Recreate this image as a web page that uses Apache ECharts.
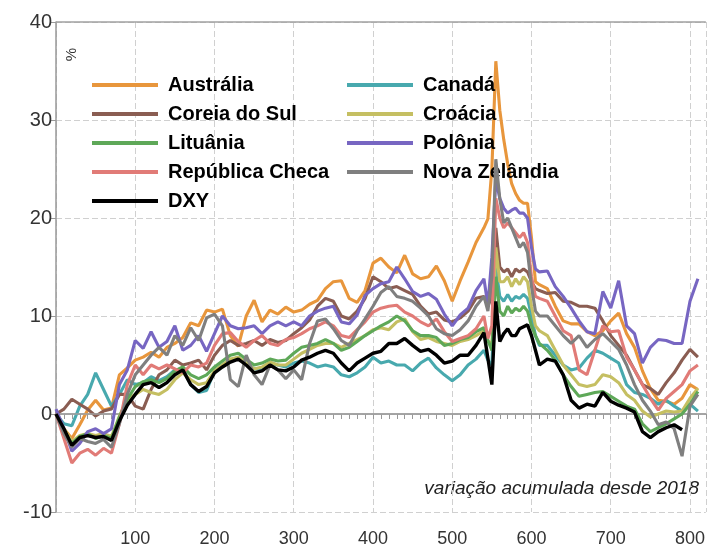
<!DOCTYPE html>
<html>
<head>
<meta charset="utf-8">
<script src="https://cdn.jsdelivr.net/npm/echarts@6/dist/echarts.min.js"></script>
<style>html,body{margin:0;padding:0;background:#fff;}#c{width:708px;height:548px;}</style>
</head>
<body>
<div id="c"></div>
<script>
// x positions (observations since 2018)
const xs = [0,10,20,30,40,50,60,70,80,90,100,110,120,130,140,150,160,170,180,190,200,210,220,230,240,250,260,270,280,290,300,310,320,330,340,350,360,370,380,390,400,410,420,430,440,450,460,470,480,490,500,510,520,530,
540,545,550,555,560,565,570,575,580,585,590,595,600,605,610,
620,630,640,650,660,670,680,690,700,710,720,730,740,750,760,770,780,790,800,810];

const australia = [0,-1.5,-2.5,-1.1,0.4,1.4,0.4,0.6,4.0,4.7, 5.5,5.8,6.3,5.8,6.8,7.2,7.8,9.3,9.0,10.6, 10.4,10.7,8.0,6.9,10.0,11.6,9.4,10.6,10.2,10.9, 10.4,10.6,11.2,11.6,12.8,13.5,13.6,11.8,11.4,12.6, 15.4,15.9,15.0,14.4,16.2,14.3,13.8,14.0,15.1,13.6, 11.5,13.6,15.5,17.5,
19.0,19.9,25.0,36.0,31.0,28.0,25.5,23.5,22.5,21.8,21.5,21.5,18.0,13.5,13.2,
12.8,11.0,9.5,9.2,9.2,8.4,8.0,8.5,9.5,10.3,8.2,6.8,4.4,2.6,1.4,1.3,1.0,1.6,3.0,2.5];
const canada = [0,-1.0,-1.2,0.8,2.0,4.2,2.5,0.8,2.0,3.5, 3.0,3.2,3.8,3.4,3.8,4.5,4.6,3.0,2.2,2.4, 4.4,5.0,5.5,5.8,5.2,4.6,4.6,5.2,5.0,4.8, 5.2,5.4,5.2,4.8,5.0,4.8,4.0,3.8,4.2,4.8, 5.8,5.2,5.4,5.0,5.0,4.4,5.2,5.7,4.7,4.0, 3.4,4.0,5.0,5.6,
6.5,5.5,5.0,15.0,12.0,11.5,12.2,11.5,12.0,11.8,12.2,11.8,10.0,8.0,7.0,
7.0,6.0,5.0,4.5,4.7,5.7,6.5,6.2,5.7,5.2,3.0,2.2,2.0,1.6,1.0,1.4,0.8,0.3,1.0,0.3];
const coreia = [0,0.5,1.5,1.0,0.5,-0.2,0.3,0.5,2.0,2.0, 0.8,0.5,2.5,4.0,4.5,5.5,5.0,5.2,5.5,4.5, 6.0,7.0,7.5,7.0,7.2,7.5,7.0,7.6,7.3,7.5, 8.2,8.8,9.6,11.0,11.8,11.5,10.0,9.7,10.5,11.8, 14.0,13.5,12.8,13.0,12.6,12.2,11.0,10.2,10.4,9.6, 9.4,9.8,10.5,11.8,
12.0,11.0,12.0,19.0,15.0,14.5,14.8,14.0,14.8,14.5,14.8,14.5,13.5,12.8,12.6,
12.3,12.4,11.5,11.4,11.0,11.0,10.8,9.5,8.0,7.0,6.0,4.5,3.0,2.6,2.0,3.2,4.2,5.5,6.6,5.8];
const croacia = [0,-1.5,-2.8,-2.2,-2.0,-2.2,-2.0,-2.3,-0.2,1.5, 2.0,2.5,2.2,2.0,2.5,3.5,4.2,3.5,3.0,3.2, 4.4,5.0,5.6,5.8,5.2,4.6,4.8,5.3,5.0,5.0, 5.6,6.2,6.6,7.0,7.2,7.2,6.8,7.2,7.6,8.0, 8.6,8.8,8.6,9.4,9.7,8.4,7.6,7.8,7.4,7.2, 7.0,7.4,7.6,8.0,
8.5,7.5,7.0,17.0,13.5,13.5,14.0,13.0,13.8,13.2,14.0,13.5,11.0,9.0,8.5,
8.0,6.5,5.0,4.0,3.0,2.8,3.0,4.0,3.8,3.2,2.0,1.4,0.3,-0.3,0.0,0.3,0.2,0.3,1.6,2.6];
const lituania = [0,-1.8,-3.0,-2.3,-2.0,-2.5,-2.2,-2.5,-0.3,1.5, 2.8,3.3,3.5,3.2,3.6,4.4,4.8,4.0,3.6,4.0, 4.8,5.4,6.0,6.2,5.6,5.0,5.2,5.6,5.4,5.5, 6.2,6.8,7.0,7.2,7.6,7.2,6.5,6.8,7.4,8.0, 8.5,9.0,9.4,10.0,9.5,8.5,8.0,8.0,7.8,7.0, 7.2,7.6,7.8,8.4,
8.8,7.5,6.5,14.0,10.5,10.0,11.0,10.3,10.8,10.5,11.0,10.5,9.0,8.0,7.2,
6.5,5.5,4.0,2.8,1.8,2.0,2.2,2.3,1.8,1.3,0.8,0.5,-1.0,-1.8,-1.4,-1.0,-0.5,0.0,1.0,2.3];
const polonia = [0.5,-1.5,-3.8,-3.0,-1.8,-1.5,-2.0,-1.5,3.0,4.5, 7.5,6.7,8.4,6.8,7.4,9.0,6.5,7.0,8.0,6.4, 8.2,10.0,9.0,8.7,8.8,9.0,8.2,9.0,9.4,9.0, 9.4,9.0,10.0,10.5,10.8,11.0,9.4,9.2,10.1,12.1, 12.8,13.3,13.5,15.0,13.8,12.5,12.0,12.3,11.7,10.2, 9.0,10.1,10.8,12.6,
13.8,11.1,16.0,24.0,22.0,21.0,20.5,20.8,21.0,20.5,20.5,20.0,17.0,14.8,14.5,
14.6,13.0,12.0,10.8,9.5,8.4,8.2,12.5,10.8,13.6,9.0,8.2,5.2,6.8,7.6,7.5,7.2,7.2,11.5,13.8];
const checa = [0,-2.5,-5.0,-4.0,-3.6,-4.2,-3.5,-4.0,-1.0,3.0, 5.0,4.0,5.0,4.6,5.0,4.6,4.2,5.0,4.8,5.2, 7.0,8.2,8.3,7.4,6.8,7.5,8.0,7.2,7.0,7.6, 7.8,8.2,8.7,9.0,9.4,9.0,8.0,7.8,8.6,9.4, 10.4,10.8,11.0,11.1,10.4,10.0,9.4,9.0,9.7,8.4, 7.4,7.7,8.0,8.7,
10.0,7.7,9.0,22.0,20.0,19.0,19.5,19.0,18.5,18.0,18.5,17.5,14.0,12.0,11.8,
11.5,10.0,8.5,8.0,4.5,4.0,6.5,9.0,8.4,8.5,5.8,4.5,3.0,1.6,0.4,1.6,2.3,3.0,4.4,5.0];
const zelandia = [0,-2.0,-3.4,-2.5,-2.8,-3.0,-2.6,-3.4,-1.0,2.0, 4.0,5.0,6.0,6.8,6.0,8.0,7.0,8.8,7.5,9.8, 10.2,9.0,3.5,2.8,6.0,4.0,3.0,5.0,4.5,3.6, 4.5,3.5,7.2,9.5,9.7,8.7,7.5,7.0,8.5,9.7, 11.0,12.4,13.0,12.0,11.8,11.5,10.8,10.0,8.7,8.2, 8.0,8.6,9.5,11.0,
12.0,10.5,14.0,26.0,22.0,19.5,20.0,19.0,18.0,17.0,17.5,16.5,13.0,10.5,10.0,
10.0,9.0,8.0,7.2,8.0,6.8,7.6,8.2,7.4,6.6,5.0,3.0,1.4,0.3,-1.1,-0.8,-1.5,-4.3,0.8,2.0];
const dxy = [0,-1.5,-3.2,-2.4,-2.2,-2.4,-2.3,-2.7,-0.7,0.9, 2.0,3.0,3.2,2.7,3.2,4.0,4.5,3.0,2.3,2.8, 4.2,4.8,5.3,5.6,5.0,4.2,4.4,5.0,4.5,4.4, 4.8,5.5,5.8,6.2,6.5,6.2,5.2,4.4,5.2,5.7, 6.2,6.4,7.2,7.2,7.7,7.0,6.4,6.6,6.0,5.2, 5.4,6.0,6.0,7.0,
8.3,5.7,3.0,11.5,7.4,8.2,8.7,8.0,8.0,8.7,8.9,9.1,8.0,6.5,5.0,
5.6,5.4,4.0,1.4,0.6,1.0,0.8,2.2,1.3,0.9,0.6,0.2,-1.8,-2.4,-1.8,-1.4,-1.1,-1.6,null,null];

const yTicks = [-10, 0, 10, 20, 30, 40];
const xTickLabels = [100, 200, 300, 400, 500, 600, 700, 800];

const seriesDefs = [
  {name: 'Austrália', data: australia, color: '#E8963C'},
  {name: 'Canadá', data: canada, color: '#48A9AE'},
  {name: 'Coreia do Sul', data: coreia, color: '#8A5D52'},
  {name: 'Croácia', data: croacia, color: '#C5BF62'},
  {name: 'Lituânia', data: lituania, color: '#5EA858'},
  {name: 'Polônia', data: polonia, color: '#7766C2'},
  {name: 'República Checa', data: checa, color: '#E17B77'},
  {name: 'Nova Zelândia', data: zelandia, color: '#7F7F7F'},
  {name: 'DXY', data: dxy, color: '#000000'}
];

const FONT = 'Liberation Sans, Arial, sans-serif';
const chart = echarts.init(document.getElementById('c'), null, {renderer: 'canvas'});

const series = seriesDefs.map((s, i) => {
  const o = {
    name: s.name,
    type: 'line',
    data: xs.map((x, k) => [x, s.data[k]]),
    symbol: 'none',
    showSymbol: false,
    connectNulls: false,
    animation: false,
    itemStyle: {color: s.color},
    lineStyle: {color: s.color, width: s.name === 'DXY' ? 3.4 : 3.1},
    z: 2 + i
  };
  if (i === 0) {
    o.markLine = {
      silent: true, symbol: 'none', animation: false,
      label: {show: false},
      lineStyle: {color: '#a0a0a0', type: 'solid', width: 1.5},
      data: [{yAxis: 0}, {yAxis: 40}]
    };
  }
  return o;
});

const legendText = {fontSize: 20, fontWeight: 'bold', color: '#000', fontFamily: FONT, lineHeight: 20, padding: [0, 0, 0, 5]};
const legendCommon = {orient: 'vertical', top: 75, padding: 0, itemWidth: 66, itemHeight: 4, itemGap: 9, icon: 'rect', selectedMode: false, textStyle: legendText};

chart.setOption({
  animation: false,
  backgroundColor: '#fff',
  grid: {left: 56, top: 22, right: 0, bottom: 34, containLabel: false},
  legend: [
    Object.assign({left: 92, data: ['Austrália', 'Coreia do Sul', 'Lituânia', 'República Checa', 'DXY']}, legendCommon),
    Object.assign({left: 347, data: ['Canadá', 'Croácia', 'Polônia', 'Nova Zelândia']}, legendCommon)
  ],
  xAxis: {
    type: 'value', min: 0, max: 820, interval: 100,
    axisLine: {show: true, lineStyle: {color: '#999', width: 1.5}},
    axisTick: {show: true, length: 5, lineStyle: {color: '#999'}},
    minorTick: {show: true, splitNumber: 10, length: 5, lineStyle: {color: '#999'}},
    axisLabel: {
      fontSize: 18, color: '#333', fontFamily: FONT, margin: 18, showMaxLabel: false,
      formatter: v => (xTickLabels.indexOf(v) >= 0 ? String(v) : '')
    },
    splitLine: {show: true, lineStyle: {color: '#d0d0d0', type: [6, 3], width: 1}}
  },
  yAxis: {
    type: 'value', min: yTicks[0], max: yTicks[yTicks.length - 1], interval: 10,
    axisLine: {show: true, lineStyle: {color: '#999', width: 1.5}},
    axisTick: {show: true, length: 6, lineStyle: {color: '#999'}},
    axisLabel: {fontSize: 20, color: '#333', fontFamily: FONT, margin: 4},
    splitLine: {show: true, lineStyle: {color: '#d0d0d0', type: [6, 3], width: 1}}
  },
  graphic: [
    {type: 'text', left: 64, top: 48, rotation: Math.PI / 2,
     style: {text: '%', fill: '#333', font: '15px ' + FONT}},
    {type: 'text', right: 9, top: 479,
     style: {text: 'variação acumulada desde 2018', fill: '#222', font: 'italic 19px ' + FONT}}
  ],
  series: series
});
</script>
</body>
</html>
